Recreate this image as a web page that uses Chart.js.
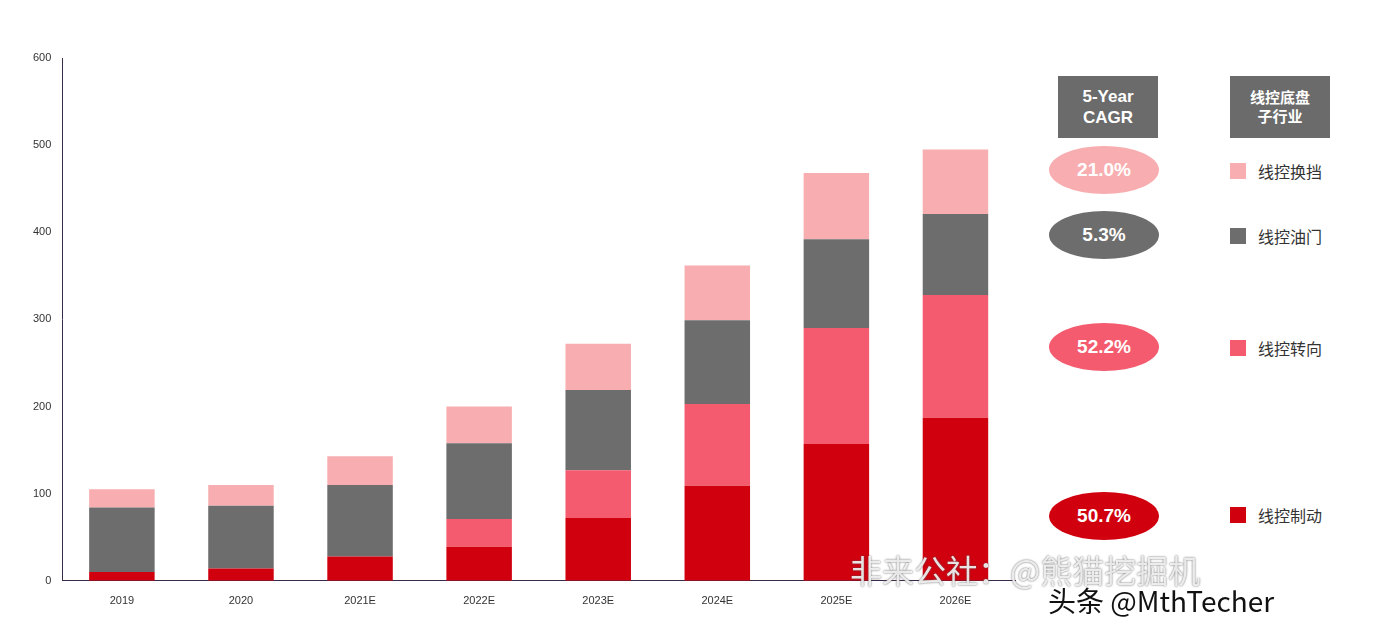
<!DOCTYPE html>
<html><head><meta charset="utf-8">
<script src="https://cdn.jsdelivr.net/npm/chart.js@4"></script>
<style>
body{margin:0;background:#fff;font-family:"Noto Sans CJK SC","Noto Sans",sans-serif;}
#wrap{position:absolute;left:0;top:0;width:1030px;height:634px;}
.hdr{position:absolute;top:76px;width:100px;height:62px;background:#6b6b6b;color:#fff;font-weight:bold;text-align:center;display:flex;align-items:center;justify-content:center;line-height:1.25;}
.ell{position:absolute;left:1049px;width:110px;height:48px;border-radius:50%;color:#fff;font-weight:bold;font-size:19px;display:flex;align-items:center;justify-content:center;font-family:"Liberation Sans",sans-serif;}
.leg{position:absolute;left:1230px;font-size:16px;color:#333;display:flex;align-items:center;}
.leg span{display:inline-block;width:16px;height:16px;margin-right:12px;}
.wm{position:absolute;color:rgba(255,255,255,0.85);text-shadow:0 0 2px #555;}
</style></head><body>
<div id="wrap"><canvas id="c" width="1030" height="634"></canvas></div>
<div class="hdr" style="left:1058px;font-size:17px;font-family:'Liberation Sans',sans-serif">5-Year<br>CAGR</div>
<div class="hdr" style="left:1230px;font-size:15px">线控底盘<br>子行业</div>
<div class="ell" style="top:146px;background:#f8aeb0">21.0%</div>
<div class="ell" style="top:211px;background:#6d6d6d">5.3%</div>
<div class="ell" style="top:323px;background:#f45b6e">52.2%</div>
<div class="ell" style="top:492px;background:#d0000f">50.7%</div>
<div class="leg" style="top:159px"><span style="background:#f8aeb0"></span>线控换挡</div>
<div class="leg" style="top:224px"><span style="background:#6d6d6d"></span>线控油门</div>
<div class="leg" style="top:336px"><span style="background:#f45b6e"></span>线控转向</div>
<div class="leg" style="top:503px"><span style="background:#d0000f"></span>线控制动</div>
<div class="wm" style="left:850px;top:546px;font-size:32px">非来公社：@熊猫挖掘机</div>
<div style="position:absolute;left:1048px;top:580px;font-size:28px;color:#111;text-shadow:0 0 3px #fff">头条 @MthTecher</div>
<script>
const categories=["2019","2020","2021E","2022E","2023E","2024E","2025E","2026E"];
const brake=[10,14,28,39,72,109,157,187];
const steering=[0,0,0,32,55,94,133,141];
const throttle=[74,72,82,87,92,96,102,93];
const shift=[21,24,33,42,53,63,76,74];
const names=["线控制动","线控转向","线控油门","线控换挡"];
const colors=["#d0000f","#f45b6e","#6d6d6d","#f8aeb0"];
const series=[brake,steering,throttle,shift];
new Chart(document.getElementById('c'),{
type:'bar',
data:{labels:categories,datasets:series.map((d,i)=>({label:names[i],data:d,backgroundColor:colors[i],barPercentage:0.55,categoryPercentage:1}))},
options:{responsive:false,animation:false,devicePixelRatio:1,
layout:{padding:{top:58,right:15,left:30,bottom:20}},
plugins:{legend:{display:false},tooltip:{enabled:false}},
scales:{
x:{stacked:true,grid:{display:false},border:{color:'#3a2a4a'},ticks:{color:'#333',font:{size:11,family:'Liberation Sans'},padding:6}},
y:{stacked:true,min:0,max:600,grid:{display:false},border:{color:'#3a2a4a'},ticks:{stepSize:100,color:'#333',font:{size:11,family:'Liberation Sans'}}}
}}});
</script>
</body></html>
